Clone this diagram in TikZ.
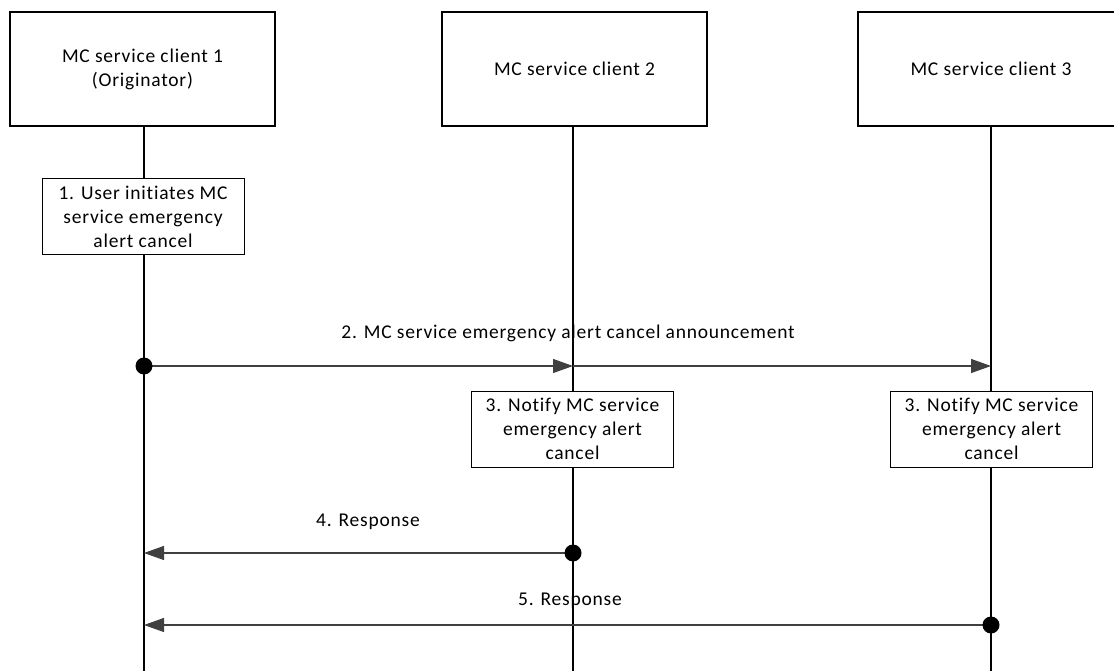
\documentclass[tikz,border=0pt]{standalone}
\usepackage{fontspec}
\setmainfont{Carlito}[LetterSpace=4,Ligatures=NoCommon]
\usetikzlibrary{arrows.meta}
\definecolor{msggray}{RGB}{64,64,64}
\begin{document}
\begin{tikzpicture}[x=1pt,y=-1pt,
  every node/.style={font=\fontsize{19.5}{24}\selectfont},
  entity/.style={draw=black,line width=1.2pt,minimum width=265pt,minimum height=114pt,align=center,inner sep=0pt},
  stepbox/.style={draw=black,line width=1pt,fill=white,minimum width=202pt,minimum height=76pt,align=center,inner sep=0pt},
  life/.style={draw=black,line width=1.2pt},
  msg/.style={draw=msggray,line width=1.2pt,-{Triangle[length=20pt,width=14pt,fill=msggray]}},
  dotc/.style={circle,fill=black,minimum size=17pt,inner sep=0pt},
  lbl/.style={inner sep=0pt}]
\useasboundingbox (0,0) rectangle (1114,671);
\node[entity] (c1) at (142.5,69) {MC service client 1\\(Originator)};
\node[entity] (c2) at (574.5,69) {MC service client 2};
\node[entity,minimum width=266pt] (c3) at (991,69) {MC service client 3};
\coordinate (b1) at (144,671);
\coordinate (b2) at (573,671);
\coordinate (b3) at (991,671);
\draw[life] (144,126) -- (b1);
\draw[life] (573,126) -- (b2);
\draw[life] (991,126) -- (b3);
\node[stepbox] (s1) at (143,217) {1. User initiates MC\\service emergency\\alert cancel};
\node[stepbox] (s3a) at (572.5,429) {3. Notify MC service\\emergency alert\\cancel};
\node[stepbox] (s3b) at (991.5,429) {3. Notify MC service\\emergency alert\\cancel};
\coordinate (m2a) at (144,366);
\coordinate (m2b) at (573,366);
\coordinate (m2c) at (991,366);
\draw[msg] (m2a) -- (m2b);
\draw[msg] (m2b) -- (m2c);
\node[dotc] (d2) at (m2a) {};
\node[lbl] (l2) at (568,333) {2. MC service emergency alert cancel announcement};
\coordinate (m4a) at (573,553);
\coordinate (m4b) at (144,553);
\draw[msg] (m4a) -- (m4b);
\node[dotc] (d4) at (m4a) {};
\node[lbl] (l4) at (368,522) {4. Response};
\coordinate (m5a) at (991,625);
\coordinate (m5b) at (144,625);
\draw[msg] (m5a) -- (m5b);
\node[dotc] (d5) at (m5a) {};
\node[lbl] (l5) at (570,601) {5. Response};
\end{tikzpicture}
\end{document}
